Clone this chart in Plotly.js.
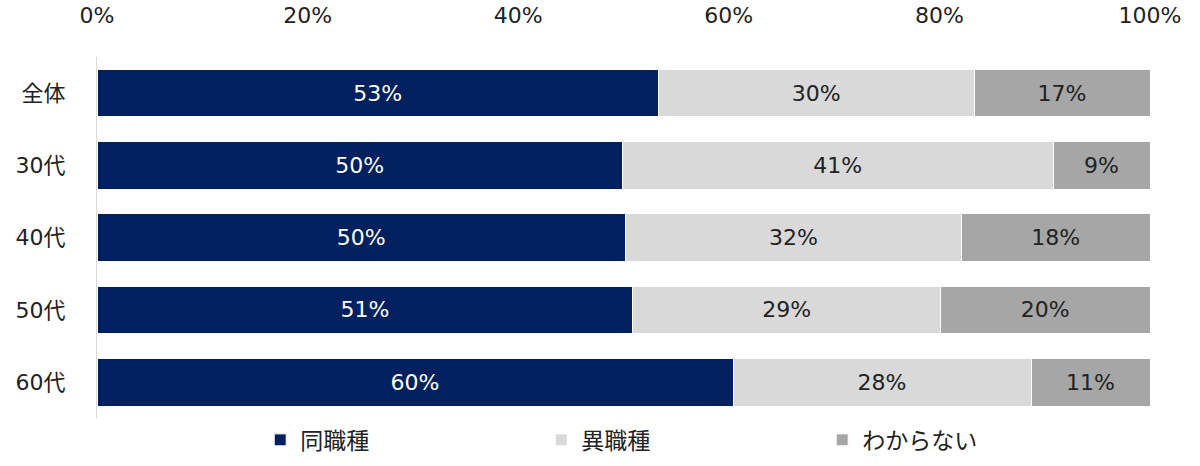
<!DOCTYPE html>
<html>
<head>
<meta charset="utf-8">
<script src="https://cdn.plot.ly/plotly-3.0.1.min.js"></script>
<style>
  html, body { margin: 0; padding: 0; background: #fff; }
  #chart { width: 1200px; height: 466px; }
</style>
</head>
<body>
<div id="chart"></div>
<script>
// 年代別の回答（%）
const categories = ['全体', '30代', '40代', '50代', '60代'];
const sameJob    = [53.3, 49.9, 50.2, 50.9, 60.4];
const otherJob   = [30.0, 40.9, 31.9, 29.2, 28.3];
const unknown    = [16.7,  9.2, 17.9, 19.9, 11.3];
const seriesNames = ['同職種', '異職種', 'わからない'];

const FONT = '"DejaVu Sans", "Noto Sans CJK JP", sans-serif';

function bar(name, values, color, textColor) {
  return {
    type: 'bar', orientation: 'h', name,
    y: categories, x: values,
    marker: { color, line: { color: '#ffffff', width: 1 } },
    texttemplate: '%{x:.0f}%', textposition: 'inside', insidetextanchor: 'middle',
    textfont: { family: FONT, size: 22, color: textColor },
    hoverinfo: 'skip',
  };
}

const data = [
  bar(seriesNames[0], sameJob,  '#002060', '#ffffff'),
  bar(seriesNames[1], otherJob, '#d9d9d9', '#222222'),
  bar(seriesNames[2], unknown,  '#a6a6a6', '#222222'),
];

const layout = {
  width: 1200, height: 466,
  margin: { l: 97, r: 50, t: 57, b: 47 },
  barmode: 'stack', bargap: 0.34,
  paper_bgcolor: '#ffffff', plot_bgcolor: '#ffffff',
  font: { family: FONT, color: '#222222' },
  xaxis: {
    side: 'top', range: [0, 100], dtick: 20, ticksuffix: '%',
    showgrid: false, zeroline: false, showline: false,
    ticks: '', ticklabelstandoff: 29,
    tickfont: { family: FONT, size: 22, color: '#222222' },
    fixedrange: true, automargin: false,
  },
  yaxis: {
    autorange: 'reversed', showgrid: false, zeroline: false,
    showline: true, linecolor: '#d9d9d9', linewidth: 1,
    ticks: '', ticklabelstandoff: 26,
    tickfont: { family: FONT, size: 22, color: '#222222' },
    fixedrange: true, automargin: false,
  },
  showlegend: true,
  legend: {
    orientation: 'h', x: 0.155, xanchor: 'left',
    yref: 'container', y: 0.056, yanchor: 'middle',
    entrywidth: 236, entrywidthmode: 'pixels',
    font: { family: FONT, size: 23, color: '#222222' },
    itemwidth: 30, traceorder: 'normal',
  },
};

Plotly.newPlot('chart', data, layout, { displayModeBar: false, staticPlot: true });
</script>
</body>
</html>
